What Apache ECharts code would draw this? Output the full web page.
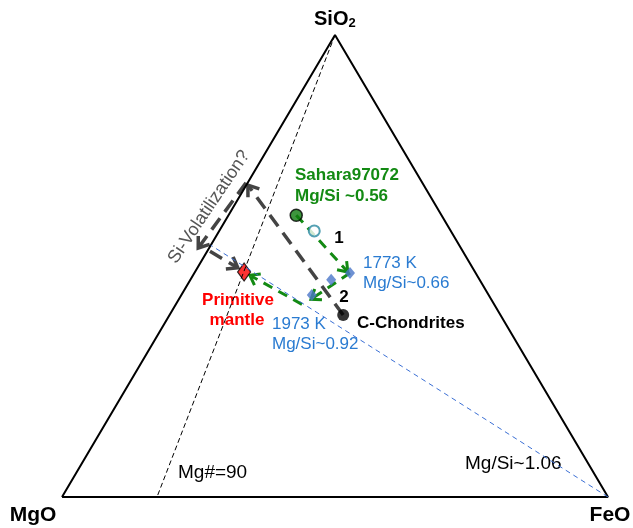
<!DOCTYPE html>
<html>
<head>
<meta charset="utf-8">
<script src="https://cdn.jsdelivr.net/npm/echarts@6/dist/echarts.min.js"></script>
<style>
html,body{margin:0;padding:0;background:#fff;}
#chart{width:633px;height:528px;}
</style>
</head>
<body>
<div id="chart"></div>
<script>
// Ternary compositions: [MgO, FeO, SiO2] (percent)
const triangle = [[100,0,0],[0,100,0],[0,0,100],[100,0,0]];
const mgNumber90Line = [[0,0,100],[82.6,17.4,0]];
const mgSi106Line = [[0,100,0],[45.5,0,54.5]];

const sahara = [26.6,12.4,61.0];
const saharaOpen = [25.0,17.4,57.6];
const k1773 = [23.0,28.5,48.5];
const midDiamond = [27.2,25.8,47.0];
const k1973 = [32.4,23.9,43.7];
const chondrites = [28.8,31.8,39.4];
const primitiveMantle = [42.3,9.0,48.7];

// arrows: [from, to]
const greenArrows = [
  [sahara, [23.3,28.0,48.7]],
  [k1773, [33.0,24.2,42.8]],
  [[35.2,23.1,41.7], [41.6,10.4,48.0]]
];
const greyArrows = [
  [chondrites, [32.2,0.3,67.5]],
  [[46.3,0.5,53.2], [43.0,7.4,49.6]],
  [[32.3,-0.3,68.0], [48.1,-2.0,53.9]]
];

function tern(p){ return [(p[1] + p[2]/2)/100, p[2]/100]; }

const FONT = 'Liberation Sans, Arial, sans-serif';
const GREEN = '#138a13';
const BLUE = '#2a7bd1';
const GREY = '#444444';

function arrowSeries(arrows, color, width, dash, head){
  return {
    type: 'custom',
    coordinateSystem: 'cartesian2d',
    clip: false,
    silent: true,
    data: arrows.map(a => tern(a[0]).concat(tern(a[1]))),
    renderItem: function(params, api){
      const p1 = api.coord([api.value(0), api.value(1)]);
      const p2 = api.coord([api.value(2), api.value(3)]);
      const dx = p2[0]-p1[0], dy = p2[1]-p1[1];
      const len = Math.sqrt(dx*dx+dy*dy);
      const ux = dx/len, uy = dy/len;
      const ang = Math.PI/5;
      const c = Math.cos(ang), s = Math.sin(ang);
      const a1 = [p2[0] - head*(ux*c - uy*s), p2[1] - head*(ux*s + uy*c)];
      const a2 = [p2[0] - head*(ux*c + uy*s), p2[1] - head*(-ux*s + uy*c)];
      return {
        type: 'group',
        children: [
          {type:'line', shape:{x1:p1[0],y1:p1[1],x2:p2[0]-ux*2,y2:p2[1]-uy*2},
           style:{stroke:color, lineWidth:width, lineDash:dash, fill:null}},
          {type:'polyline', shape:{points:[a1,p2,a2]},
           style:{stroke:color, lineWidth:width, fill:null, lineJoin:'miter'}}
        ]
      };
    }
  };
}

const chart = echarts.init(document.getElementById('chart'));
chart.setOption({
  animation: false,
  backgroundColor: '#fff',
  grid: {left: 62, right: 25, top: 35, bottom: 31},
  xAxis: {type:'value', min:0, max:1, show:false},
  yAxis: {type:'value', min:0, max:1, show:false},
  series: [
    {type:'line', data: triangle.map(tern), symbol:'none', silent:true,
     lineStyle:{color:'#000', width:2}},
    {type:'line', data: mgNumber90Line.map(tern), symbol:'none', silent:true,
     lineStyle:{color:'#000', width:1, type:[5,3]}},
    {type:'line', data: mgSi106Line.map(tern), symbol:'none', silent:true,
     lineStyle:{color:'#3b6fd4', width:1, type:[5,4]}},
    arrowSeries(greyArrows, GREY, 3.5, [14,8], 12),
    arrowSeries(greenArrows, GREEN, 3, [10,7], 11),
    {type:'scatter', data:[tern(sahara)], symbol:'circle', symbolSize:12,
     itemStyle:{color:'#0e7a0e', borderColor:'#000', borderWidth:1.5}},
    {type:'scatter', data:[tern(saharaOpen)], symbol:'circle', symbolSize:11,
     itemStyle:{color:'#fff', borderColor:'#2b8aa0', borderWidth:2}},
    {type:'scatter', data:[tern(k1773), tern(midDiamond), tern(k1973)], symbol:'diamond', symbolSize:[10,12],
     itemStyle:{color:'#4a76c8'}},
    {type:'scatter', data:[tern(chondrites)], symbol:'circle', symbolSize:12,
     itemStyle:{color:'#000'}},
    {type:'scatter', data:[tern(primitiveMantle)], symbol:'diamond', symbolSize:[13,18],
     itemStyle:{color:'#ff0000', borderColor:'#000', borderWidth:1.2}}
  ],
  graphic: [
    {type:'text', left:314, top:9, style:{
      text:'{a|SiO}{b|2}', rich:{a:{font:'bold 20px '+FONT, fill:'#000'}, b:{font:'bold 13px '+FONT, fill:'#000', padding:[9,0,0,0]}}}},
    {type:'text', x:33, y:515, style:{text:'MgO', font:'bold 21px '+FONT, fill:'#000', textAlign:'center', textVerticalAlign:'middle'}},
    {type:'text', x:610, y:515, style:{text:'FeO', font:'bold 21px '+FONT, fill:'#000', textAlign:'center', textVerticalAlign:'middle'}},
    {type:'text', x:178, y:473, style:{text:'Mg#=90', font:'19px '+FONT, fill:'#000', textVerticalAlign:'middle'}},
    {type:'text', x:465, y:464, style:{text:'Mg/Si~1.06', font:'19px '+FONT, fill:'#000', textVerticalAlign:'middle'}},
    {type:'text', x:295, y:175, style:{text:'Sahara97072', font:'bold 17px '+FONT, fill:GREEN, textVerticalAlign:'middle'}},
    {type:'text', x:295, y:196, style:{text:'Mg/Si ~0.56', font:'bold 17px '+FONT, fill:GREEN, textVerticalAlign:'middle'}},
    {type:'text', x:339, y:238, style:{text:'1', font:'bold 17px '+FONT, fill:'#000', textAlign:'center', textVerticalAlign:'middle'}},
    {type:'text', x:344, y:297, style:{text:'2', font:'bold 17px '+FONT, fill:'#000', textAlign:'center', textVerticalAlign:'middle'}},
    {type:'text', x:363, y:263, style:{text:'1773 K', font:'17px '+FONT, fill:BLUE, textVerticalAlign:'middle'}},
    {type:'text', x:363, y:283, style:{text:'Mg/Si~0.66', font:'17px '+FONT, fill:BLUE, textVerticalAlign:'middle'}},
    {type:'text', x:357, y:323, style:{text:'C-Chondrites', font:'bold 17px '+FONT, fill:'#000', textVerticalAlign:'middle'}},
    {type:'text', x:272, y:324, style:{text:'1973 K', font:'17px '+FONT, fill:BLUE, textVerticalAlign:'middle'}},
    {type:'text', x:272, y:344, style:{text:'Mg/Si~0.92', font:'17px '+FONT, fill:BLUE, textVerticalAlign:'middle'}},
    {type:'text', x:238, y:300, style:{text:'Primitive', font:'bold 17px '+FONT, fill:'#ff0000', textAlign:'center', textVerticalAlign:'middle'}},
    {type:'text', x:237, y:320, style:{text:'mantle', font:'bold 17px '+FONT, fill:'#ff0000', textAlign:'center', textVerticalAlign:'middle'}},
    {type:'text', x:209, y:207, rotation: 56*Math.PI/180, style:{text:'Si-Volatilization?', font:'18px '+FONT, fill:'#555', textAlign:'center', textVerticalAlign:'middle'}}
  ]
});
</script>
</body>
</html>
